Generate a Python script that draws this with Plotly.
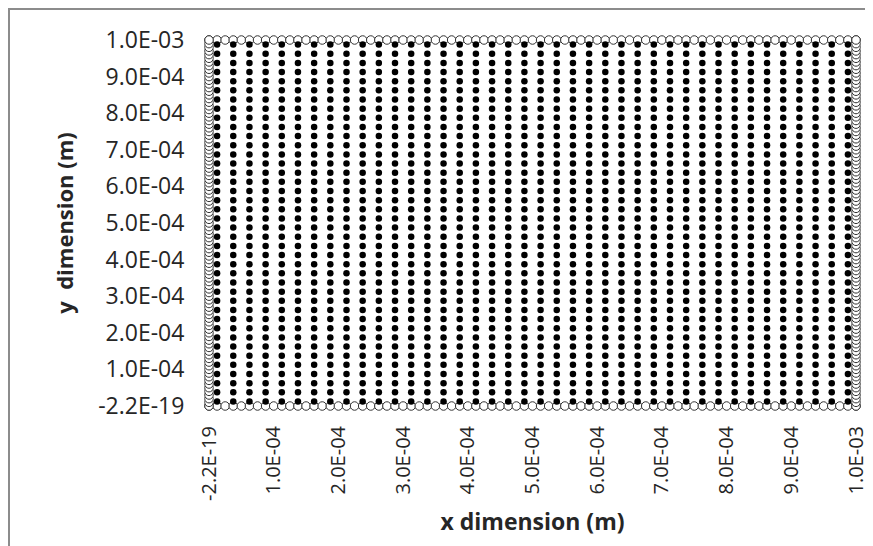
import plotly.graph_objects as go

# ---------------- data (micrometres) ----------------
# interior control-volume centres (same in x and y)
interior_x_um = [12.5, 37.5, 62.5, 87.5, 112.5, 137.5, 162.5, 187.5, 212.5, 237.5,
                 262.5, 287.5, 312.5, 337.5, 362.5, 387.5, 412.5, 437.5, 462.5, 487.5,
                 512.5, 537.5, 562.5, 587.5, 612.5, 637.5, 662.5, 687.5, 712.5, 737.5,
                 762.5, 787.5, 812.5, 837.5, 862.5, 887.5, 912.5, 937.5, 962.5, 987.5]
interior_y_um = [12.5, 37.5, 62.5, 87.5, 112.5, 137.5, 162.5, 187.5, 212.5, 237.5,
                 262.5, 287.5, 312.5, 337.5, 362.5, 387.5, 412.5, 437.5, 462.5, 487.5,
                 512.5, 537.5, 562.5, 587.5, 612.5, 637.5, 662.5, 687.5, 712.5, 737.5,
                 762.5, 787.5, 812.5, 837.5, 862.5, 887.5, 912.5, 937.5, 962.5, 987.5]

# boundary nodes along the top and bottom edges
edge_x_um = [0, 12.5, 25, 37.5, 50, 62.5, 75, 87.5, 100, 112.5, 125, 137.5, 150, 162.5,
             175, 187.5, 200, 212.5, 225, 237.5, 250, 262.5, 275, 287.5, 300, 312.5,
             325, 337.5, 350, 362.5, 375, 387.5, 400, 412.5, 425, 437.5, 450, 462.5,
             475, 487.5, 500, 512.5, 525, 537.5, 550, 562.5, 575, 587.5, 600, 612.5,
             625, 637.5, 650, 662.5, 675, 687.5, 700, 712.5, 725, 737.5, 750, 762.5,
             775, 787.5, 800, 812.5, 825, 837.5, 850, 862.5, 875, 887.5, 900, 912.5,
             925, 937.5, 950, 962.5, 975, 987.5, 1000]
# boundary nodes along the left and right edges
edge_y_um = [0, 10, 20, 30, 40, 50, 60, 70, 80, 90, 100, 110, 120, 130, 140, 150, 160,
             170, 180, 190, 200, 210, 220, 230, 240, 250, 260, 270, 280, 290, 300, 310,
             320, 330, 340, 350, 360, 370, 380, 390, 400, 410, 420, 430, 440, 450, 460,
             470, 480, 490, 500, 510, 520, 530, 540, 550, 560, 570, 580, 590, 600, 610,
             620, 630, 640, 650, 660, 670, 680, 690, 700, 710, 720, 730, 740, 750, 760,
             770, 780, 790, 800, 810, 820, 830, 840, 850, 860, 870, 880, 890, 900, 910,
             920, 930, 940, 950, 960, 970, 980, 990, 1000]
domain_um = [0, 1000]

tick_vals = [0, 1e-4, 2e-4, 3e-4, 4e-4, 5e-4, 6e-4, 7e-4, 8e-4, 9e-4, 1e-3]
tick_text = ["-2.2E-19", "1.0E-04", "2.0E-04", "3.0E-04", "4.0E-04", "5.0E-04",
             "6.0E-04", "7.0E-04", "8.0E-04", "9.0E-04", "1.0E-03"]

UM = 1e-6

# interior grid
ix, iy = [], []
for yv in interior_y_um:
    for xv in interior_x_um:
        ix.append(xv * UM)
        iy.append(yv * UM)

# boundary nodes
bx, by = [], []
for xv in edge_x_um:
    bx.append(xv * UM); by.append(domain_um[1] * UM)
for xv in edge_x_um:
    bx.append(xv * UM); by.append(domain_um[0] * UM)
for yv in edge_y_um:
    bx.append(domain_um[0] * UM); by.append(yv * UM)
for yv in edge_y_um:
    bx.append(domain_um[1] * UM); by.append(yv * UM)

# ---------------- figure ----------------
# (the page body adds an 8px offset, so the figure is laid out 8px up/left)
W, H = 873, 546
L, R, T, B = 201, 25, 32, 148
pw, ph = W - L - R, H - T - B

fig = go.Figure()
fig.add_trace(go.Scatter(
    x=bx, y=by, mode="markers", name="boundary", cliponaxis=False,
    marker=dict(symbol="circle", size=8.5, color="white",
                line=dict(color="#333333", width=1)),
))
fig.add_trace(go.Scatter(
    x=ix, y=iy, mode="markers", name="interior", cliponaxis=False,
    marker=dict(symbol="circle", size=6.5, color="black"),
))

font_family = "Open Sans"
fig.update_layout(
    width=W, height=H,
    margin=dict(l=L, r=R, t=T, b=B, autoexpand=False),
    paper_bgcolor="white", plot_bgcolor="white",
    showlegend=False,
    font=dict(family=font_family, size=20, color="#262626"),
    shapes=[dict(type="rect", xref="paper", yref="paper",
                 x0=(1 - L) / pw, x1=(W + 20 - L) / pw,
                 y0=-(B + 20) / ph, y1=1 + (T - 1) / ph,
                 line=dict(color="#8c8c8c", width=2), fillcolor="rgba(0,0,0,0)",
                 layer="below")],
)
fig.update_xaxes(
    range=[0, 1e-3], showgrid=False, zeroline=False, showline=False,
    tickmode="array", tickvals=tick_vals, ticktext=tick_text, tickangle=-90,
    ticks="outside", ticklen=11, tickcolor="rgba(0,0,0,0)",
    tickfont=dict(size=20),
    title=dict(text="<b>x dimension (m)</b>", font=dict(size=23), standoff=13),
    automargin=False,
)
fig.update_yaxes(
    range=[0, 1e-3], showgrid=False, zeroline=False, showline=False,
    tickmode="array", tickvals=tick_vals, ticktext=tick_text,
    ticks="outside", ticklen=19, tickcolor="rgba(0,0,0,0)",
    tickfont=dict(size=23),
    title=dict(text="<b>y  dimension (m)</b>", font=dict(size=22), standoff=18),
    automargin=False,
)

fig.write_html("out.html")
